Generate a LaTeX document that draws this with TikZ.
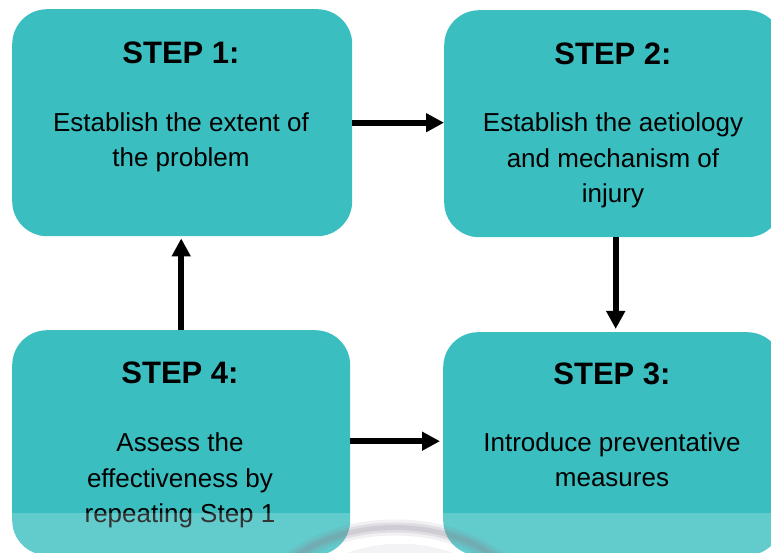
\documentclass[tikz,border=0pt]{standalone}
\usepackage{fontspec}
\setmainfont{Liberation Sans}
\usetikzlibrary{arrows.meta}
\definecolor{tealbox}{RGB}{59,190,192}
\definecolor{smudge}{RGB}{110,100,120}
\begin{document}
\begin{tikzpicture}[x=1pt,y=-1pt,
  box/.style={fill=tealbox, rounded corners=35pt, draw=none, inner sep=0pt},
  steptitle/.style={anchor=base, inner sep=0pt, font=\bfseries\fontsize{31}{36}\selectfont},
  stepbody/.style={anchor=base, inner sep=0pt, align=center, font=\fontsize{26}{35.5}\selectfont},
  arr/.style={line width=6pt, -{Triangle[length=18pt,width=18pt]}},
  blur/.style={smudge, line cap=round}]
\useasboundingbox (0,0) rectangle (771,553);
% boxes
\node[box, minimum width=340pt, minimum height=227pt, anchor=north west] (s1) at (12,9) {};
\node[box, minimum width=338pt, minimum height=227pt, anchor=north west] (s2) at (444,10) {};
\node[box, minimum width=338pt, minimum height=225pt, anchor=north west] (s4) at (12,330) {};
\node[box, minimum width=339pt, minimum height=223pt, anchor=north west] (s3) at (443,332) {};
% faint blurred smudge at the bottom
\draw[blur, line width=16pt, opacity=0.12] (285,565) .. controls (340,515) and (450,515) .. (505,565);
\draw[blur, line width=10pt, opacity=0.16] (285,565) .. controls (340,515) and (450,515) .. (505,565);
\draw[blur, line width=5pt, opacity=0.2] (285,565) .. controls (340,515) and (450,515) .. (505,565);
\draw[blur, line width=10pt, opacity=0.1] (320,575) .. controls (360,540) and (440,540) .. (480,575);
% texts (body anchors are the baseline of the last line)
\node[steptitle] (t1) at (181,63.5) {STEP 1:};
\node[stepbody] (b1) at (181,166.7) {Establish the extent of\\the problem};
\node[steptitle] (t2) at (613,64.3) {STEP 2:};
\node[stepbody] (b2) at (613,203) {Establish the aetiology\\and mechanism of\\injury};
\node[steptitle] (t3) at (612,384.3) {STEP 3:};
\node[stepbody] (b3) at (612,486.7) {Introduce preventative\\measures};
\node[steptitle] (t4) at (180,383.3) {STEP 4:};
\node[stepbody] (b4) at (180,522.7) {Assess the\\effectiveness by\\repeating Step 1};
% arrows
\draw[arr] (s1.east) -- (s1.east -| s2.west);
\draw[arr, shorten >=3pt] ([xshift=2.5pt]s2.south) -- ([xshift=2.5pt]s2.south |- s3.north);
\draw[arr, shorten >=2pt] (s4.north) -- (s4.north |- s1.south);
\draw[arr, shorten >=3pt] ([yshift=1.5pt]s4.east) -- ([yshift=1.5pt]s4.east -| s3.west);
% light band at the bottom
\fill[white, opacity=0.2] (0,513) rectangle (771,553);
\end{tikzpicture}
\end{document}
